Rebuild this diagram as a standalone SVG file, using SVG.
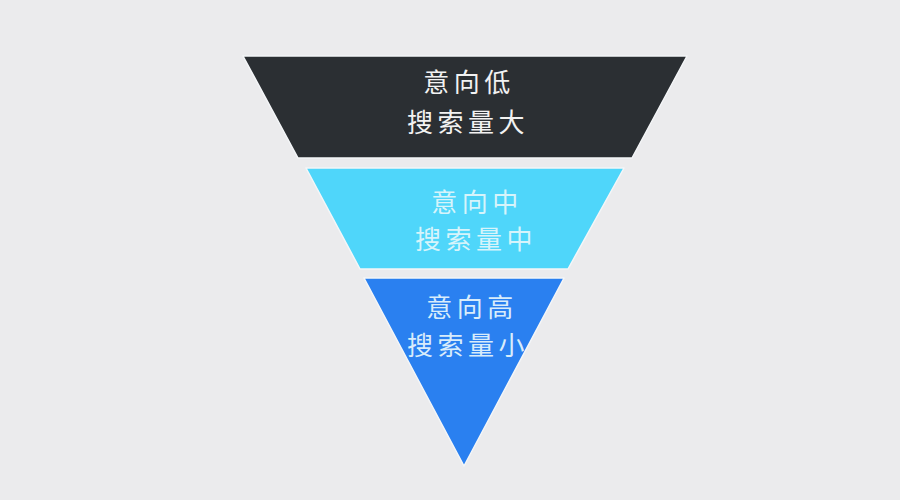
<svg xmlns="http://www.w3.org/2000/svg" width="900" height="500" viewBox="0 0 900 500">
<style>
.band{stroke:#f4f6f8;stroke-width:1.5;stroke-linejoin:round}
.t{font-family:"Noto Sans CJK SC","Noto Sans",sans-serif;font-size:26px;letter-spacing:4.5px;text-anchor:middle}
</style>
<rect width="900" height="500" fill="#ebebed"/>
<g id="band-low">
<polygon class="band" points="243,56 687,56 632,158 298,158" fill="#2b2f33"/>
<text class="t" x="469" y="92" fill="#f2f2f2">意向低</text>
<text class="t" x="468" y="132" fill="#f2f2f2">搜索量大</text>
</g>
<g id="band-mid">
<polygon class="band" points="306,168 624,168 568,269 360,269" fill="#4fd6fa"/>
<text class="t" x="477" y="212" fill="#d6f4fb">意向中</text>
<text class="t" x="476" y="249" fill="#d6f4fb">搜索量中</text>
</g>
<g id="band-high">
<polygon class="band" points="364,278 564,278 464,466" fill="#2a80f0"/>
<text class="t" x="472" y="317" fill="#d8ecfb">意向高</text>
<text class="t" x="468" y="355" fill="#d8ecfb">搜索量小</text>
</g>
</svg>
